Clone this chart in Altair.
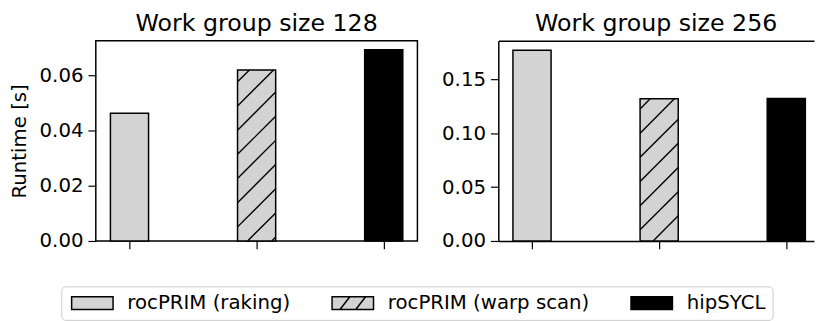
import altair as alt
import pandas as pd

# ---- data ----
panels = ["Work group size 128", "Work group size 256"]
impls = ["rocPRIM (raking)", "rocPRIM (warp scan)", "hipSYCL"]
positions = [0, 1, 2]
runtime_128 = [0.0463, 0.0620, 0.0693]
runtime_256 = [0.1772, 0.1320, 0.1323]
y_ticks_128 = [0.0, 0.02, 0.04, 0.06]
y_ticks_256 = [0.0, 0.05, 0.10, 0.15]
y_max = [0.0726, 0.186]
fills = ["#d3d3d3", "#d3d3d3", "#000000"]
hatched = [False, True, False]

# ---- style / layout ----
FONT = "DejaVu Sans"
W_LEFT = 326
W_RIGHT = 320
H = 203
X_DOMAIN_LEFT = [-0.265, 2.265]
X_DOMAIN_RIGHT = [-0.265, 2.218]
BAR_W = 0.3
HATCH_SPACING = 24.5   # px between hatch lines
HATCH_PHASE = [14.3, 11.3]
LINE_W = 1.5

# legend swatch: 42 x 13 px, symbol size 13^2 -> unit = 6.5 px
RECT = "M-1,-1H5.46V1H-1Z"
HATCH = RECT + "M0.23,1L1.77,-1M2.69,1L4.23,-1"
shapes = [RECT, HATCH, RECT]

color_scale = alt.Scale(domain=impls, range=fills)
shape_scale = alt.Scale(domain=impls, range=shapes)

legend = alt.Legend(
    orient="none", legendX=-35, legendY=249, direction="horizontal", title=None,
    labelFontSize=20, labelFont=FONT, labelColor="black", labelLimit=400,
    symbolSize=169, symbolOpacity=1, labelOffset=40, columnPadding=38, padding=7,
    strokeColor="#cccccc", cornerRadius=4, fillColor="white",
)


def hatch_segments(values, ymax, xdom, width, phase):
    px_x = width / (xdom[1] - xdom[0])
    px_y = H / ymax
    rows = []
    for pos, v, h in zip(positions, values, hatched):
        if not h:
            continue
        bw = BAR_W * px_x
        bh = v * px_y
        left = pos - BAR_W / 2
        k = -int(bw // HATCH_SPACING) - 2
        while True:
            c = phase + k * HATCH_SPACING
            if c > bh:
                break
            t0 = max(0.0, -c)
            t1 = min(bw, bh - c)
            if t1 > t0:
                rows.append(dict(hx=left + t0 / px_x, hx2=left + t1 / px_x,
                                 hy=(c + t0) / px_y, hy2=(c + t1) / px_y))
            k += 1
    return pd.DataFrame(rows)


def panel(i, values, ticks, xdom, width, left_panel):
    title = panels[i]
    ymax = y_max[i]
    df = pd.DataFrame({"impl": impls, "pos": positions, "runtime": values})
    xscale = alt.Scale(domain=xdom, nice=False, zero=False)
    yscale = alt.Scale(domain=[0, ymax], nice=False, zero=True)

    yaxis = alt.Axis(
        values=ticks, format=".2f", grid=False, domain=not left_panel,
        domainColor="black", domainWidth=LINE_W,
        tickSize=8, tickColor="black", tickWidth=1.2,
        labelFontSize=20, labelFont=FONT, labelColor="black", labelPadding=5,
        title="Runtime [s]" if left_panel else None,
        titleFontSize=20, titleFont=FONT, titleFontWeight="normal",
        titleColor="black", titlePadding=10,
    )
    xaxis = alt.Axis(
        values=positions, labels=False, grid=False, domain=not left_panel,
        domainColor="black", domainWidth=LINE_W,
        tickSize=8, tickColor="black", tickWidth=1.2, title=None,
    )

    bars = alt.Chart(df).transform_calculate(
        x0=f"datum.pos - {BAR_W / 2}", x1=f"datum.pos + {BAR_W / 2}", base="0"
    ).mark_rect(stroke="black", strokeWidth=LINE_W).encode(
        x=alt.X("x0:Q", scale=xscale, axis=xaxis),
        x2="x1:Q",
        y=alt.Y("runtime:Q", scale=yscale, axis=yaxis),
        y2="base:Q",
        color=alt.Color("impl:N", scale=color_scale, legend=legend),
    )

    hdf = hatch_segments(values, ymax, xdom, width, HATCH_PHASE[i])
    hatch = alt.Chart(hdf).mark_rule(color="black", strokeWidth=1.4).encode(
        x=alt.X("hx:Q", scale=xscale, axis=None),
        x2="hx2:Q",
        y=alt.Y("hy:Q", scale=yscale, axis=None),
        y2="hy2:Q",
    )

    if left_panel:
        pxaxis = None
    else:
        pxaxis = alt.Axis(orient="top", labels=False, ticks=False, grid=False,
                          domain=True, domainColor="black", domainWidth=LINE_W,
                          title=None)
    points = alt.Chart(df).mark_point(
        filled=True, opacity=0, stroke="black", strokeWidth=LINE_W
    ).encode(
        x=alt.X("pos:Q", scale=xscale, axis=pxaxis),
        y=alt.Y("runtime:Q", scale=yscale, axis=None),
        color=alt.Color("impl:N", scale=color_scale, legend=legend),
        shape=alt.Shape("impl:N", scale=shape_scale, legend=legend),
    )

    if left_panel:
        view = alt.ViewBackground(stroke="black", strokeWidth=LINE_W)
    else:
        view = alt.ViewBackground(stroke="transparent")

    ch = alt.layer(points, bars, hatch).properties(
        width=width, height=H,
        title=alt.Title(title, fontSize=24, font=FONT, fontWeight="normal",
                        color="black", anchor="middle", offset=5),
        view=view,
    ).resolve_axis(x="independent", y="independent")
    return ch


left = panel(0, runtime_128, y_ticks_128, X_DOMAIN_LEFT, W_LEFT, True)
right = panel(1, runtime_256, y_ticks_256, X_DOMAIN_RIGHT, W_RIGHT, False)

chart = alt.hconcat(left, right, spacing=22).resolve_scale(
    x="independent", y="independent", color="shared", shape="shared"
).properties(padding={"left": 0, "right": 0, "top": 1, "bottom": 0},
             background="white").configure_view(stroke="transparent")

chart.save("out.html", embed_options={"renderer": "svg", "actions": False})
